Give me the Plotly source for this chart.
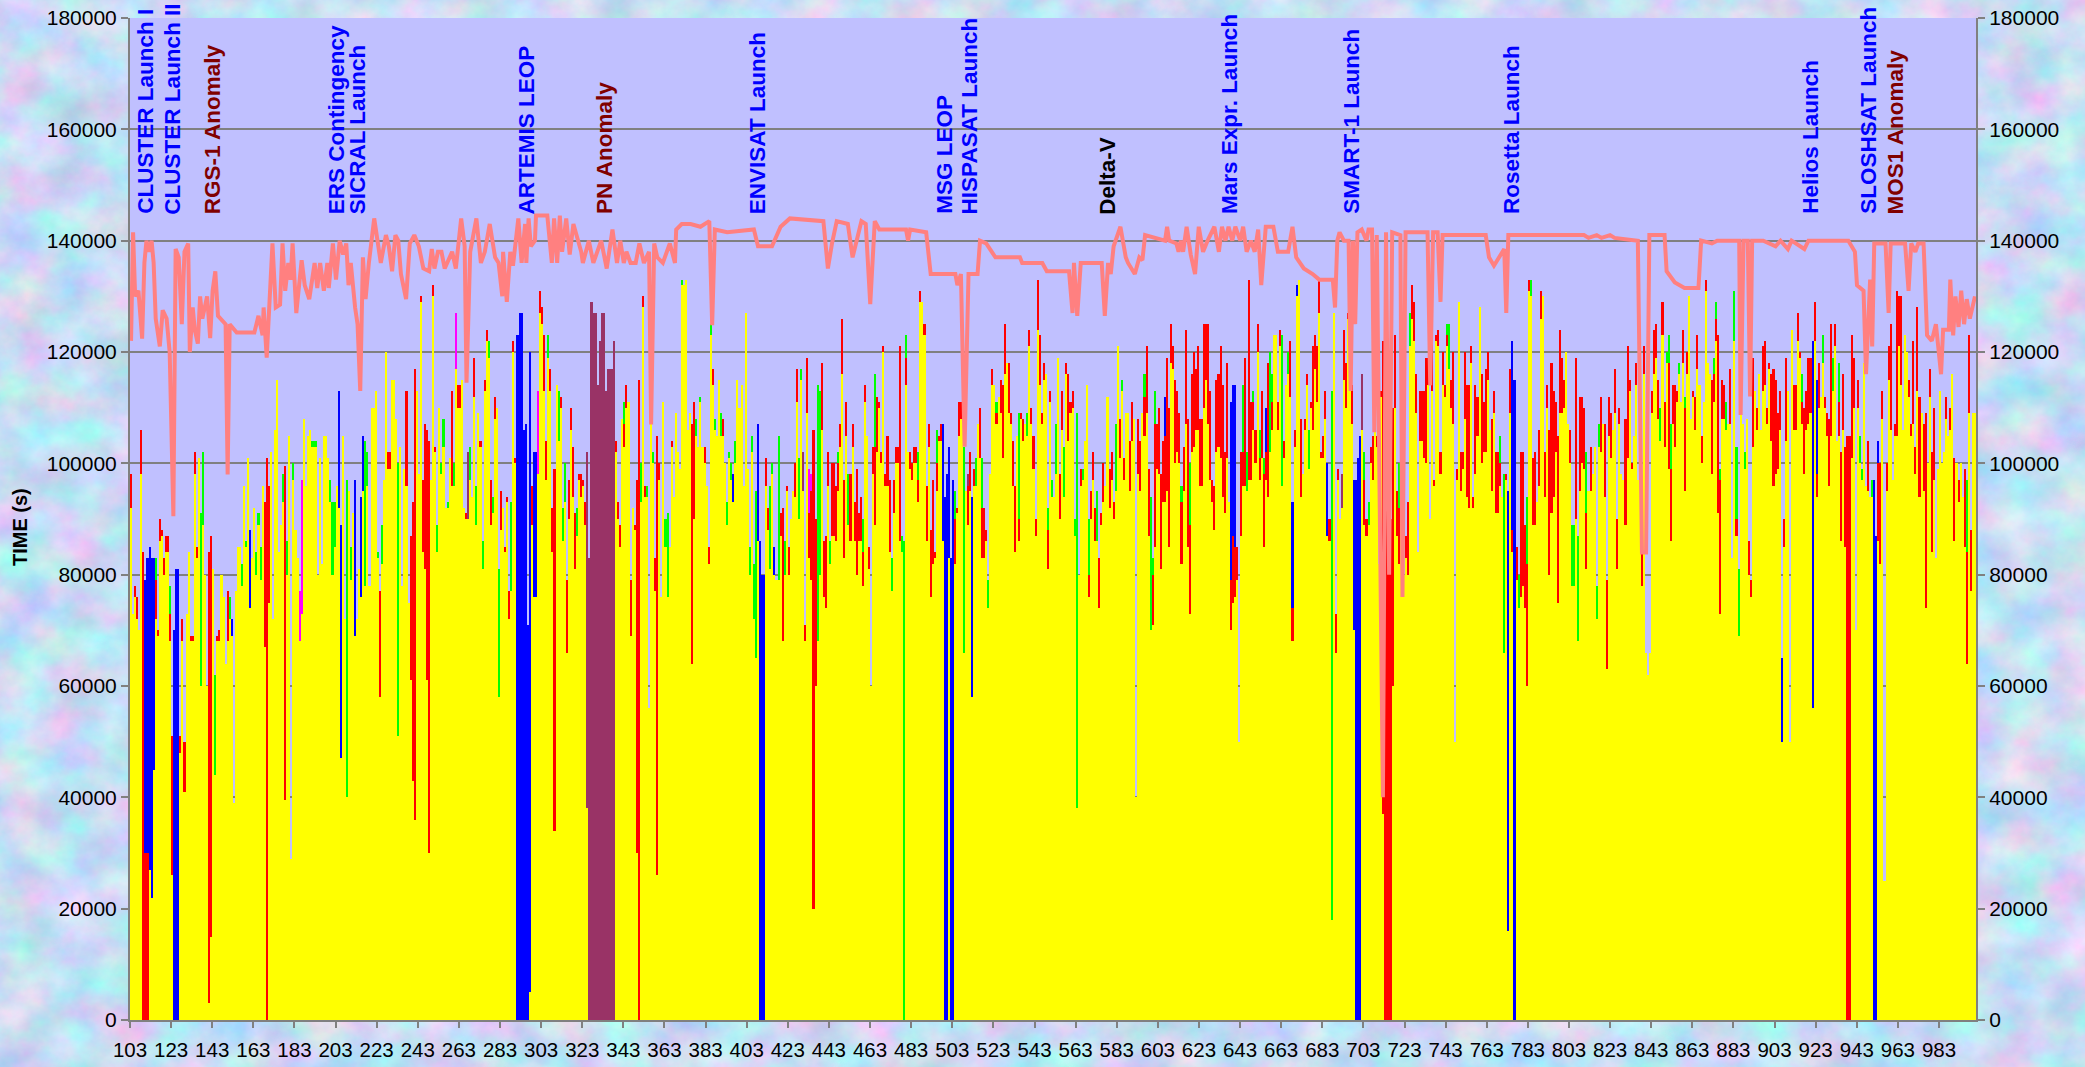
import base64
import plotly.graph_objects as go

# ---- revolution start of each block of bars (values in thousands of seconds) ----
yellow_a = [92,73,76,72,70,98,0,0,0,27,
22,45,72,69,86,87,80,84,84,68,
26,0,0,0,48,68,41,73,84,68,
68,98,83,101,60,89,80,60,3,15,
81,44,68,68,80,76,64,68,72,69,
39,77,85,85,78,96,85,101,74,83,
92,80,89,79,96,67,0,75,102,72,
106,115,84,89,93,39.5,80,105,29,97,
88,83,68,73,108,96,105,106,103,103,
103,80,101,82,105,105,101,93,80,85,
96,92,47,105,72,40,95,79,91,69,
72,81,76]
cap_a = [6,0,2,4,0,8,84,49,53,58,
61,38,4,1,4,1,3,3,3,5,
25,70,81,81,3,4,9,0,0,1,
1,4,2,0,31,13,0,0,81,72,
0,18,1,2,0,0,0,9,4,3,
0,0,0,0,4,0,1,0,14,0,
0,4,2,6,0,26,101,21,0,0,
0,0,0,0,5,60,6,0,0,3,
0,0,9,24,0,0,0,0,1,1,
1,0,0,0,0,0,0,4,13,8,
0,21,42,0,0,57,0,6,0,28,
0,0,18]
kind_a = ("r.rr.rrbbb" "bbgrrrrrrg" "rbbbrrr..r" "rrr.gg..rr" ".grr...rgb"
          "....g.g.b." ".ggg.rrr.." "....grg..g" "..mm....gg" "g......ggg"
          ".bb..g.g.b" "..b")
under_a = {7:30, 8:30, 12:7, 19:5}

yellow_b = [95,78,96,78,110,110,113,83,58,82,
97,120,99,99,115,115,108,51,103,78,
99,96,75,61,43,36,113,98,129,84,
81,61,30,97,130,102,84,110,98,103,
92,92,101,96,96,117,110,110,115,92,
90,90,97,94,112,89,109,103,81,113,
122,119,89,91,108,110,58,88,92,84,
93,72,77,120,100,0,0,0,0,0,
0,5,89,76,76,98,127,125,113,97,
119,113,84,34,114,104,110,86,93,66,
90,106,94,81,87,97,94,96,89,38,
0,0,0]
cap_b = [10,26,6,0,0,0,0,1,19,7,
0,0,3,3,0,0,0,49,0,0,
0,17,0,26,50,81,0,0,1,13,
26,45,74,0,2,1,5,0,2,5,
0,1,0,17,4,10,4,4,0,0,
1,12,6,0,7,7,0,1,5,2,
2,3,8,3,4,0,23,7,0,1,
1,5,16,2,1,123,127,127,106,107,
71,115,7,26,26,15,4,3,10,7,
4,4,8,65,0,9,2,6,7,13,
7,4,9,10,5,1,4,1,4,64,
83,129,127]
kind_b = ("bgg....grg" "..rr...g.." ".r.rrr..rr" "rrr.rrg.gg" ".g.rgmrr.."
          "rpg.rg.rgr" "rgrgr.gr.r" "rrgrrbbbbb" "bbrbbmrrrr" "grrr.grggr"
          "rrrrgrrrrp" "ppp")
under_b = {}

yellow_c = [0,0,0,0,0,0,0,0,0,0,
102,90,85,108,103,110,111,69,92,88,
30,0,93,128,94,94,56,107,100,77,
26,97,76,111,85,76,85,103,94,109,
102,99,132,132,133,106,109,64,90,105,
103,111,103,100,96,82,123,114,106,105,
115,105,105,100,89,101,97,93,100,115,
110,114,96,127,99,80,102,72,65,86,
0,0,0,96,88,81,98,80,79,79,
87,68,80,95,80,90,95,94,111,90,
115,95,68,109,83,79,20,60,68,80,
106,76,74]
cap_c = [127,114,122,127,127,113,117,117,117,122,
2,3,4,0,4,4,0,10,0,1,
67,115,7,2,2,2,0,0,2,6,
79,3,0,0,5,15,0,1,0,0,
0,0,1,0,0,0,0,43,21,3,
0,1,0,3,0,3,2,3,2,0,
0,4,3,0,4,1,3,5,4,0,
0,0,0,0,0,5,3,10,30,21,
86,80,80,5,4,15,2,5,0,26,
4,24,6,1,5,0,0,6,6,11,
2,7,3,10,8,3,86,30,46,33,
12,10,13]
kind_c = ("pppppppppp" "rrr.gr.r.r" "rrgrrg..gr" "rr..gg.r.." "..g....rrg"
          ".g.r.rgrg." ".gr.gggbg." ".....ggggb" "bbbrrggb.g" "rrgrr..rrg"
          "gprrmmrrgg" "rrr")
under_c = {14:4, 104:8, 105:16}

yellow_d = [96,82,87,87,86,95,103,116,83,105,
89,86,103,86,80,86,86,78,111,105,
81,60,98,89,102,110,100,120,96,96,
84,77,91,100,100,86,84,0,114,102,
99,97,100,100,93,129,129,123,86,103,
76,82,83,95,104,104,86,0,0,83,
0,0,82,91,105,108,66,95,89,95,
58,96,96,107,101,83,83,86,74,98,
114,114,107,112,109,101,116,118,109,107,
96,84,105,86,108,104,107,105,121,107,
99,87,124,114,107,115,116,81,111,94,
94,98,119]
cap_d = [6,4,13,13,10,2,4,10,14,6,
9,12,4,7,19,5,8,6,3,0,
4,0,5,13,10,1,2,1,2,9,
13,6,6,3,3,35,3,86,4,0,
3,3,3,3,5,2,0,2,10,4,
12,15,1,6,1,3,21,94,98,20,
83,97,5,1,6,3,37,0,2,7,
36,3,5,0,9,9,9,2,5,0,
3,0,2,0,6,13,9,0,9,2,
8,12,0,19,1,4,0,4,3,3,
6,3,9,9,2,3,0,4,2,3,
0,9,0]
kind_d = ("rgrrrgrrrr" "grrrrrrgr." "r.rgrrrrrr" "rgrrrrggg." "rrrrgr.rrr"
          "rrrgrrbbbb" "bbgrrrg.pr" "brg.rgrrg." "r.g.rrr.rr" "rr.grr.grr"
          "rrrrrr.grg" ".g.")
under_d = {5:5, 17:6, 23:14, 38:5, 44:4, 53:5, 62:8, 68:7, 75:9, 82:2, 93:4, 107:7}

yellow_e = [90,106,94,116,104,109,110,87,38,80,
96,97,104,114,76,90,97,86,86,74,
89,93,96,112,92,97,90,95,121,101,
113,97,109,109,95,104,108,40,98,95,
109,105,109,87,70,71,85,99,98,81,
93,93,95,85,118,117,100,102,100,82,
95,107,85,73,102,103,106,106,96,96,
110,115,107,97,93,88,102,103,101,94,
91,101,93,70,75,76,79,50,87,96,
96,95,97,97,106,100,120,97,101,85,
97,94,102,106,123,123,106,121,96,101,
114,116,112]
cap_e = [8,7,9,2,12,2,3,3,71,0,
3,2,0,0,10,5,5,6,9,9,
2,7,0,0,7,5,3,12,0,7,
2,4,0,0,9,7,0,0,10,9,
0,4,12,12,24,3,6,8,12,17,
11,7,24,25,7,4,15,11,9,3,
8,17,23,11,14,17,11,15,12,12,
15,10,18,16,4,8,13,13,20,20,
11,17,0,32,27,29,6,0,15,12,
23,7,36,14,2,6,5,5,12,3,
8,24,18,5,0,0,5,3,27,3,
0,4,10]
kind_e = ("rrgrrrrgg." "rg..grrrgr" "rr..rrrg.r" "gr..rr..rr" ".grrgggrrr"
          "rbrrrrrrrg" "rrrgrrrrrr" "rrrrrrrrrr" "rr.bbbr.rg" "rgrrgrrgrg"
          "brgg..rrgr" ".gr")
under_e = {14:4, 41:7, 45:9, 46:22, 51:12, 59:11, 63:16, 83:9, 84:12, 85:9, 89:6, 94:5, 97:4, 99:13, 100:5, 103:5}

yellow_f = [68,103,130,133,94,98,106,114,99,110,
106,117,111,127,101,101,108,87,86,18,
127,66,97,90,92,115,110,126,114,107,
70,0,0,0,106,89,87,89,100,97,
108,103,82,112,37,0,0,0,0,60,
110,87,82,95,80,83,80,121,126,122,
109,84,104,104,101,100,114,90,113,96,
122,121,98,114,112,121,117,110,107,50,
97,129,95,99,108,94,92,118,92,98,
105,128,100,102,102,115,106,95,109,91,
91,96,94,66,97,16,109,84,0,79,
74,76,78]
cap_f = [19,3,2,0,14,0,2,2,7,1,
15,6,10,6,1,4,5,13,4,95,
0,7,2,0,6,9,8,1,3,7,
27,97,101,105,10,5,3,4,3,8,
4,2,0,1,85,115,120,100,90,50,
13,8,8,0,0,4,13,6,6,7,
7,0,9,9,12,19,5,0,9,1,
1,3,4,6,2,2,8,5,13,0,
2,0,7,3,12,20,22,3,2,16,
7,0,16,9,15,5,0,13,4,11,
11,5,0,32,1,79,8,34,115,6,
6,26,24]
kind_f = ("brb.r.rrgr" "rrrrrrrbrg" ".rr.prrrrr" "bbbbpgrgrr" "rr.rrrrrrr"
          "rrg..rrgrr" "r.rrrrr.rr" "rrrrrggrr." "r.rrrrrrrr" "r.rrrr.rrr"
          "rg.grbrbbr" "grr")
under_f = {0:6, 35:8, 52:10, 75:2, 101:4, 107:4}

yellow_g = [74,60,131,130,89,89,93,96,126,130,
94,110,80,91,94,102,75,109,109,110,
120,107,100,78,78,90,68,95,100,99,
81,95,95,98,103,72,103,102,107,94,
63,105,101,106,109,81,107,98,97,89,
101,113,99,105,114,97,103,78,116,66,
62,66,109,116,119,108,104,123,103,118,
99,86,107,103,111,116,111,118,95,116,
130,108,112,106,117,114,100,111,131,118,
116,98,111,122,91,73,108,108,106,107,
107,83,122,87,69,118,107,99,108,80,
76,103,113]
cap_g = [15,12,2,3,12,13,0,10,5,0,
8,4,26,23,15,9,23,15,10,5,
0,0,6,11,11,17,19,17,12,11,
11,0,8,0,0,6,4,10,0,13,
16,7,8,0,8,9,3,0,0,19,
20,2,1,0,4,0,10,7,5,0,
0,0,4,8,6,7,6,6,8,2,
5,8,7,11,2,2,0,6,2,4,
0,0,1,6,6,0,5,0,2,0,
0,17,3,3,32,2,7,6,5,0,
10,0,9,13,12,1,0,3,0,6,
3,16,0]
kind_g = ("rgrgrr.rr." "rrrrrrrrrr" "..rggrgrrr" "g.r..ggr.r" "rrr.rrr..r"
          "rrr.r.rrr." "..rrrrgrrg" "ggrrrg.rgr" "..rrr.r.r." ".rggrgrrg."
          "r.gggr.g.r" "rr.")
under_g = {1:22, 13:4, 14:4, 16:7, 25:12, 30:10, 70:19, 71:13, 78:15, 92:5, 93:4, 95:24, 103:3}

yellow_h = [106,116,106,113,114,107,117,104,96,98,
99,106,50,85,104,113,50,124,106,106,
122,119,107,98,106,107,109,56,122,94,
110,112,118,110,105,96,105,113,121,104,
105,86,106,85,0,0,101,110,70,110,
100,97,118,96,95,94,94,0,0,86,
82,108,25,95,115,106,97,105,105,121,
114,106,123,120,112,105,107,98,113,94,
109,95,74,100,112,84,97,83,99,113,
100,102,108,105,106,116,86,100,93,100,
94,85,64,109,77,109,109,117]
cap_h = [4,0,0,8,8,3,1,12,21,17,
10,7,15,5,15,0,0,0,8,8,
5,1,5,12,7,12,10,66,7,17,
8,0,5,2,4,12,20,6,4,0,
7,16,10,18,105,105,22,9,0,5,
5,2,0,0,9,0,3,97,87,4,
18,5,0,5,6,19,0,2,26,9,
16,0,0,0,3,2,15,5,15,18,
0,12,35,0,5,18,13,0,0,0,
0,0,4,0,4,0,15,0,4,0,
0,14,13,14,11,0,0,0]
kind_h = ("r..rrrrrrr" "rrbrr...rr" "rrgrrrrbrb" "r.grrrrgr." "grrrrrrr.r"
          "gg..r.gbbb" "rr.rrr.rrr" "r...rrrrrr" ".rr.rrr..." "..r.r.r.r."
          ".rgrr...")
under_h = {22:4, 29:4, 40:6, 59:14, 102:20}

blocks = [(103, yellow_a, cap_a, kind_a, under_a), (216, yellow_b, cap_b, kind_b, under_b),
          (329, yellow_c, cap_c, kind_c, under_c), (442, yellow_d, cap_d, kind_d, under_d),
          (555, yellow_e, cap_e, kind_e, under_e), (668, yellow_f, cap_f, kind_f, under_f),
          (781, yellow_g, cap_g, kind_g, under_g), (894, yellow_h, cap_h, kind_h, under_h)]

# total-time line: revolution / thousands of seconds
line_rev = [103,104,105,106.6,108.4,109.5,110.5,111.6,113,114,115,117,118.4,120.3,121.8,123.6,124.7,126.2,127.7,129,130.8,131.6,133,134,135.5,136.6,137.7,140,141.5,142.7,144,145.3,149,150,151,154.4,163,165,167,167.5,169,170.3,171.8,173.4,175.5,176.7,178,179.5,180.6,181.6,183.4,186,187.5,189.7,192.3,193.6,195,196.8,198.5,199.2,201.2,202.7,204.5,206.2,207.7,208.8,209.9,212,213.2,214.5,215.8,217.1,218.7,221.3,224.5,227,228.4,230,231.6,233,234.3,236.8,238.6,240.8,243,245.2,248,249.3,250.6,252.3,254,255.6,259.2,261,263.6,265.3,266.2,268,271,273.2,275.1,277.5,280.1,281.8,283.6,284,285.8,287.5,288.8,291.4,293,294.7,295.3,296.4,297.5,299.5,300,305.5,307.7,308.8,310.3,311.6,312.7,314.7,316.4,318.2,322,322.8,325.7,327.9,331.7,334.4,337.2,339.4,341,342.7,344,346,348.5,350.3,352.5,355,356,357.5,359,361.7,365.1,367.6,368.2,370.9,375.2,380,384.3,385.7,387,393,406,408,410.4,414.8,419,423.5,439.8,442,444,446.3,451.7,454,458.3,460.4,462.6,464.8,467,480,481,482,489.8,492,504,505,506.7,508.5,510.4,514.8,516,519,523.5,535.4,536.5,546.3,548.5,559.3,561,561.7,563.3,565,575.2,576.7,578.3,579.6,581,584.3,586.9,588,591.3,593.5,595,596.3,606,607,608,611.5,612.6,613.7,614.8,616.5,618.5,620.6,622.4,624.5,626.7,630,632.2,633.7,635.4,636.9,638.7,640.2,642.6,644,645.7,647.8,649.6,651.3,652.8,655,658.7,660.9,665.9,668,669.8,673.5,677.8,681,687.6,688.7,689.8,690.9,693,695.3,696.3,697.4,698.5,699.6,701.7,704,705,706.7,707.8,709,712,713.5,715,716.5,720.5,721.5,723,733.7,735,736.4,738.6,740,741,762,763.6,766,771,772,773,809.8,812,816,818.3,822.5,824.7,836,838,840,841.6,849,850,854,858.7,865.5,866.8,872,874.6,883,885.3,886,887.4,889.5,890.6,891.6,897,903,905.4,909,910.8,917,919,938.4,941.6,942.6,945.8,947,949,950,951,956.5,958,959,966,967.7,969,971,972.4,975,976.7,979,981,983.5,984.5,987.3,988,989.4,990.5,992,993.3,994.7,996,997.5,1000]
line_k = [122,141.5,130,131,122.4,136,140,138,140,136,126,121,127.5,126,120,90.5,138.5,137,125,138,139.5,120,128,124,121.5,130,126,130,122.5,131,134.5,126.5,125,98,125,123.5,123.5,126.5,123,128,119,129,139.5,128,128.5,139.5,131,136,133,139.5,127,136.5,132,129.5,136,131.5,136,131,136,131.5,139.5,133,140,137.5,139.5,132,136,128,125,113,137,129.5,136,144,136,141,139,134.5,141,140,134,129.5,139.5,141,139,135,134.5,138.5,135,138,138,135,138,135,144,139,114.5,138,144,136,138,143,137,136,130,138,129,138,135.5,144,136,143,136,144,139,140,144.5,144.5,136,144,136,144.5,138,144,137.5,143,138,136,140,136,140,135,142,136,140,136,138,136,136,139.5,136,138,107,139.5,137,136,139.5,136,142,143,143,142.5,143.5,124.8,142,141.5,142,139,139,139,142.5,144,143.5,135,139.5,143.5,143,137,143.5,143,128.6,143.5,142,142,140,142,141.5,134,134,132,134,103,134,134,140,139.5,137,137,136,136,134.5,134.5,127,136,126.5,136,136,126.5,136,134,139,142.5,137,136,134,137,136.5,141,140,142.5,140,139.5,138,140,138,142.5,137.5,134,142.5,138,140,142.5,138,142.5,140,142.5,140,142.5,140,142.5,138,140,138,142,132,142.5,142.5,138,138,142.5,137,135,134,133,133,128,140,141.5,140,140,113,140,125,141.5,142,140,142,142,105.6,141,40,141.5,80,141.5,141,76,141.5,141.5,114,141.5,141.5,129,141,141,137,135.5,138.5,127,141,141,140.5,141,140.5,141,140.5,140,84,84,141,141,134.5,132.5,131.5,131.5,140,139.5,140,140,140,108.7,140,140,112,140,140,139,140,138.5,140,138.5,140,140,138,132,131,116,133,121,139.5,139.5,127,139.5,139.5,131,139.5,138,139.5,139.5,123,122,125,116,124,124,133,123,130,124.5,131,125,129.5,126,130]

# event labels: text, revolution, colour
event_text = ["CLUSTER Launch I","CLUSTER Launch II","RGS-1 Anomaly","ERS Contingency","SICRAL Launch","ARTEMIS LEOP","PN Anomaly","ENVISAT Launch","MSG LEOP","HISPASAT Launch","Delta-V","Mars Expr. Launch","SMART-1 Launch","Rosetta Launch","Helios Launch","SLOSHSAT Launch","MOS1 Anomaly"]
event_rev = [110.3,123.4,142.4,203,213,295.5,333,407.5,499,511,578,637,697,774.5,920,948.5,961.5]
event_col = ["#0000FF","#0000FF","#800000","#0000FF","#0000FF","#0000FF","#800000","#0000FF","#0000FF","#0000FF","#000000","#0000FF","#0000FF","#0000FF","#0000FF","#0000FF","#800000"]

tick_labels = [str(r) for r in range(103, 1000, 20)]

# assemble series
revs = list(range(103, 1004))
idx = {r: n for n, r in enumerate(revs)}
N = len(revs)
yellow = [0.0]*N
low_red = [0.0]*N
seg = {k: [0.0]*N for k in "rgbmp"}
for start, ys, cs, ks, un in blocks:
    for i, (y, c, k) in enumerate(zip(ys, cs, ks)):
        n = idx[start+i]
        yellow[n] = y*1000
        low_red[n] = un.get(i, 0)*1000
        for kk in seg:
            seg[kk][n] = 0.0
        if k in seg:
            seg[k][n] = c*1000

PAGE_W, PAGE_H = 2085, 1067
L, R, T, B = 130, 1976, 18, 1020
FONT = "Liberation Sans"
GREY = "#808080"

svg = f'''<svg xmlns="http://www.w3.org/2000/svg" width="{PAGE_W}" height="{PAGE_H}">
<filter id="n" x="0" y="0" width="100%" height="100%" color-interpolation-filters="sRGB">
<feTurbulence type="fractalNoise" baseFrequency="0.02 0.024" numOctaves="5" seed="7"/>
<feColorMatrix type="matrix" values="0.5 0 0 0 0.53  -0.15 0.3 0 0 0.79  0 0 0.15 0 0.88  0 0 0 0 1"/>
</filter>
<rect width="{PAGE_W}" height="{PAGE_H}" filter="url(#n)"/>
<rect x="{L}" y="{T}" width="{R-L}" height="{B-T}" fill="#C0C0FF"/>
</svg>'''
bg_uri = "data:image/svg+xml;base64," + base64.b64encode(svg.encode()).decode()

fig = go.Figure()
for name, vals, col in [("yellow", yellow, "#FFFF00"), ("red low", low_red, "#FF0000"),
                        ("red", seg["r"], "#FF0000"), ("green", seg["g"], "#00FF00"),
                        ("blue", seg["b"], "#0000FF"), ("magenta", seg["m"], "#FF00FF"),
                        ("plum", seg["p"], "#993366")]:
    fig.add_bar(x=revs, y=vals, name=name, marker=dict(color=col, line_width=0), width=1.0)

fig.add_scatter(x=line_rev, y=[v*1000 for v in line_k], mode="lines", yaxis="y2",
                line=dict(color="#FF8080", width=4), name="total")

for t, r, c in zip(event_text, event_rev, event_col):
    fig.add_annotation(x=r, y=144400, xref="x", yref="y", text="<b>"+t+"</b>", showarrow=False, textangle=-90,
                       yanchor="bottom", xanchor="center",
                       font=dict(family=FONT, size=22.5, color=c))
fig.add_annotation(x=(20-L)/(R-L), y=(B-527)/(B-T), xref="paper", yref="paper", text="<b>TIME (s)</b>",
                   showarrow=False, textangle=-90, xanchor="center", yanchor="middle",
                   font=dict(family=FONT, size=20, color="black"))

yticks = list(range(0, 180001, 20000))
axis_y = dict(range=[0, 180000], tickvals=yticks, tickformat="d", ticks="outside", ticklen=7,
              tickcolor=GREY, tickwidth=2, showline=True, linecolor=GREY, linewidth=2, automargin=False,
              tickfont=dict(family=FONT, size=21, color="black"), zeroline=False)
fig.update_layout(
    width=PAGE_W, height=PAGE_H, autosize=False, showlegend=False, barmode="stack", bargap=0,
    margin=dict(l=L, r=PAGE_W-R, t=T, b=PAGE_H-B, pad=0),
    paper_bgcolor="#C8DCF5", plot_bgcolor="#C0C0FF",
    images=[dict(source=bg_uri, xref="paper", yref="paper", x=-L/(R-L), y=1+T/(B-T),
                 sizex=PAGE_W/(R-L), sizey=PAGE_H/(B-T), xanchor="left", yanchor="top",
                 sizing="stretch", layer="below")],
    xaxis=dict(range=[102.5, 1000.5], tickvals=[r-0.5 for r in range(103, 1000, 20)], ticktext=tick_labels,
               tickangle=0, ticks="outside", ticklen=6, tickcolor=GREY, tickwidth=2, automargin=False,
               showline=True, linecolor=GREY, linewidth=2, showgrid=False, zeroline=False,
               ticklabelstandoff=4, tickfont=dict(family=FONT, size=20.5, color="black")),
    yaxis=dict(showgrid=True, gridcolor=GREY, gridwidth=2, **axis_y),
    yaxis2=dict(overlaying="y", side="right", showgrid=False, **axis_y),
)
fig.write_html("out.html", config={"displayModeBar": False}, post_script="document.body.style.margin='0';")
